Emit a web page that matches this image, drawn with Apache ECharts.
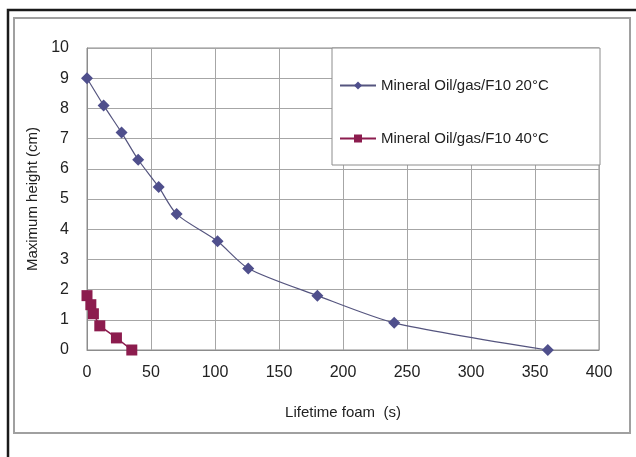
<!DOCTYPE html>
<html>
<head>
<meta charset="utf-8">
<script src="https://cdn.jsdelivr.net/npm/echarts@6/dist/echarts.min.js"></script>
<style>
  html, body { margin: 0; padding: 0; background: #fff; }
  #main { width: 636px; height: 457px; }
</style>
</head>
<body>
<div id="main"></div>
<script>
// lifetime foam (s) vs maximum height (cm)
var time20 = [0, 13, 27, 40, 56, 70, 102, 126, 180, 240, 360]
var height20 = [9, 8.1, 7.2, 6.3, 5.4, 4.5, 3.6, 2.7, 1.8, 0.9, 0]
var time40 = [0, 3, 5, 10, 23, 35]
var height40 = [1.8, 1.5, 1.2, 0.8, 0.4, 0]
var seriesNames = ['Mineral Oil/gas/F10 20°C', 'Mineral Oil/gas/F10 40°C']

function pairs(xs, ys) {
  return xs.map(function (x, i) { return [x, ys[i]] })
}

var font = 'Liberation Sans'
var myChart = echarts.init(document.getElementById('main'), null, { renderer: 'canvas' })

var option = {
  backgroundColor: '#fff',
  animation: false,
  textStyle: { fontFamily: font },
  grid: {
    left: 87,
    right: 37,
    top: 48,
    bottom: 107,
    show: true,
    borderColor: '#8c8c8c',
    borderWidth: 1
  },
  graphic: [
    // outer black frame
    {
      type: 'rect',
      shape: { x: 8, y: 10, width: 640, height: 460 },
      style: { fill: 'none', stroke: '#1a1a1a', lineWidth: 2.5 },
      z: 10
    },
    // chart area frame
    {
      type: 'rect',
      shape: { x: 14, y: 18, width: 616, height: 415 },
      style: { fill: 'none', stroke: '#a0a0a0', lineWidth: 2 },
      z: 10
    },
    // legend box
    {
      type: 'rect',
      shape: { x: 332, y: 48, width: 268, height: 117 },
      style: { fill: '#fff', stroke: '#8c8c8c', lineWidth: 1 },
      z: 3
    }
  ],
  legend: {
    orient: 'vertical',
    left: 334,
    top: 73,
    itemGap: 38,
    itemWidth: 36,
    itemHeight: 10,
    z: 5,
    textStyle: { fontFamily: font, fontSize: 15, color: '#222' },
    data: seriesNames
  },
  xAxis: {
    type: 'value',
    min: 0,
    max: 400,
    interval: 50,
    name: 'Lifetime foam  (s)',
    nameLocation: 'middle',
    nameGap: 55,
    nameTextStyle: { fontFamily: font, fontSize: 15, color: '#222' },
    axisLine: { show: true, lineStyle: { color: '#8c8c8c' } },
    axisTick: { show: false },
    axisLabel: { margin: 15, fontFamily: font, fontSize: 16, color: '#222' },
    splitLine: { show: true, lineStyle: { color: '#a6a6a6', width: 1 } }
  },
  yAxis: {
    type: 'value',
    min: 0,
    max: 10,
    interval: 1,
    name: 'Maximum height (cm)',
    nameLocation: 'middle',
    nameGap: 46,
    nameTextStyle: { fontFamily: font, fontSize: 15, color: '#222' },
    axisLine: { show: true, lineStyle: { color: '#8c8c8c' } },
    axisTick: { show: false },
    axisLabel: { margin: 18, fontFamily: font, fontSize: 16, color: '#222' },
    splitLine: { show: true, lineStyle: { color: '#a6a6a6', width: 1 } }
  },
  series: [
    {
      name: seriesNames[0],
      type: 'line',
      symbol: 'diamond',
      symbolSize: 12,
      showAllSymbol: true,
      smooth: 0.25,
      itemStyle: { color: '#4f4f8c' },
      lineStyle: { color: '#55557f', width: 1.2 },
      data: pairs(time20, height20)
    },
    {
      name: seriesNames[1],
      type: 'line',
      symbol: 'rect',
      symbolSize: 11,
      showAllSymbol: true,
      itemStyle: { color: '#8c1c4e' },
      lineStyle: { color: '#8c1c4e', width: 1.5 },
      data: pairs(time40, height40)
    }
  ]
}

myChart.setOption(option)
</script>
</body>
</html>
